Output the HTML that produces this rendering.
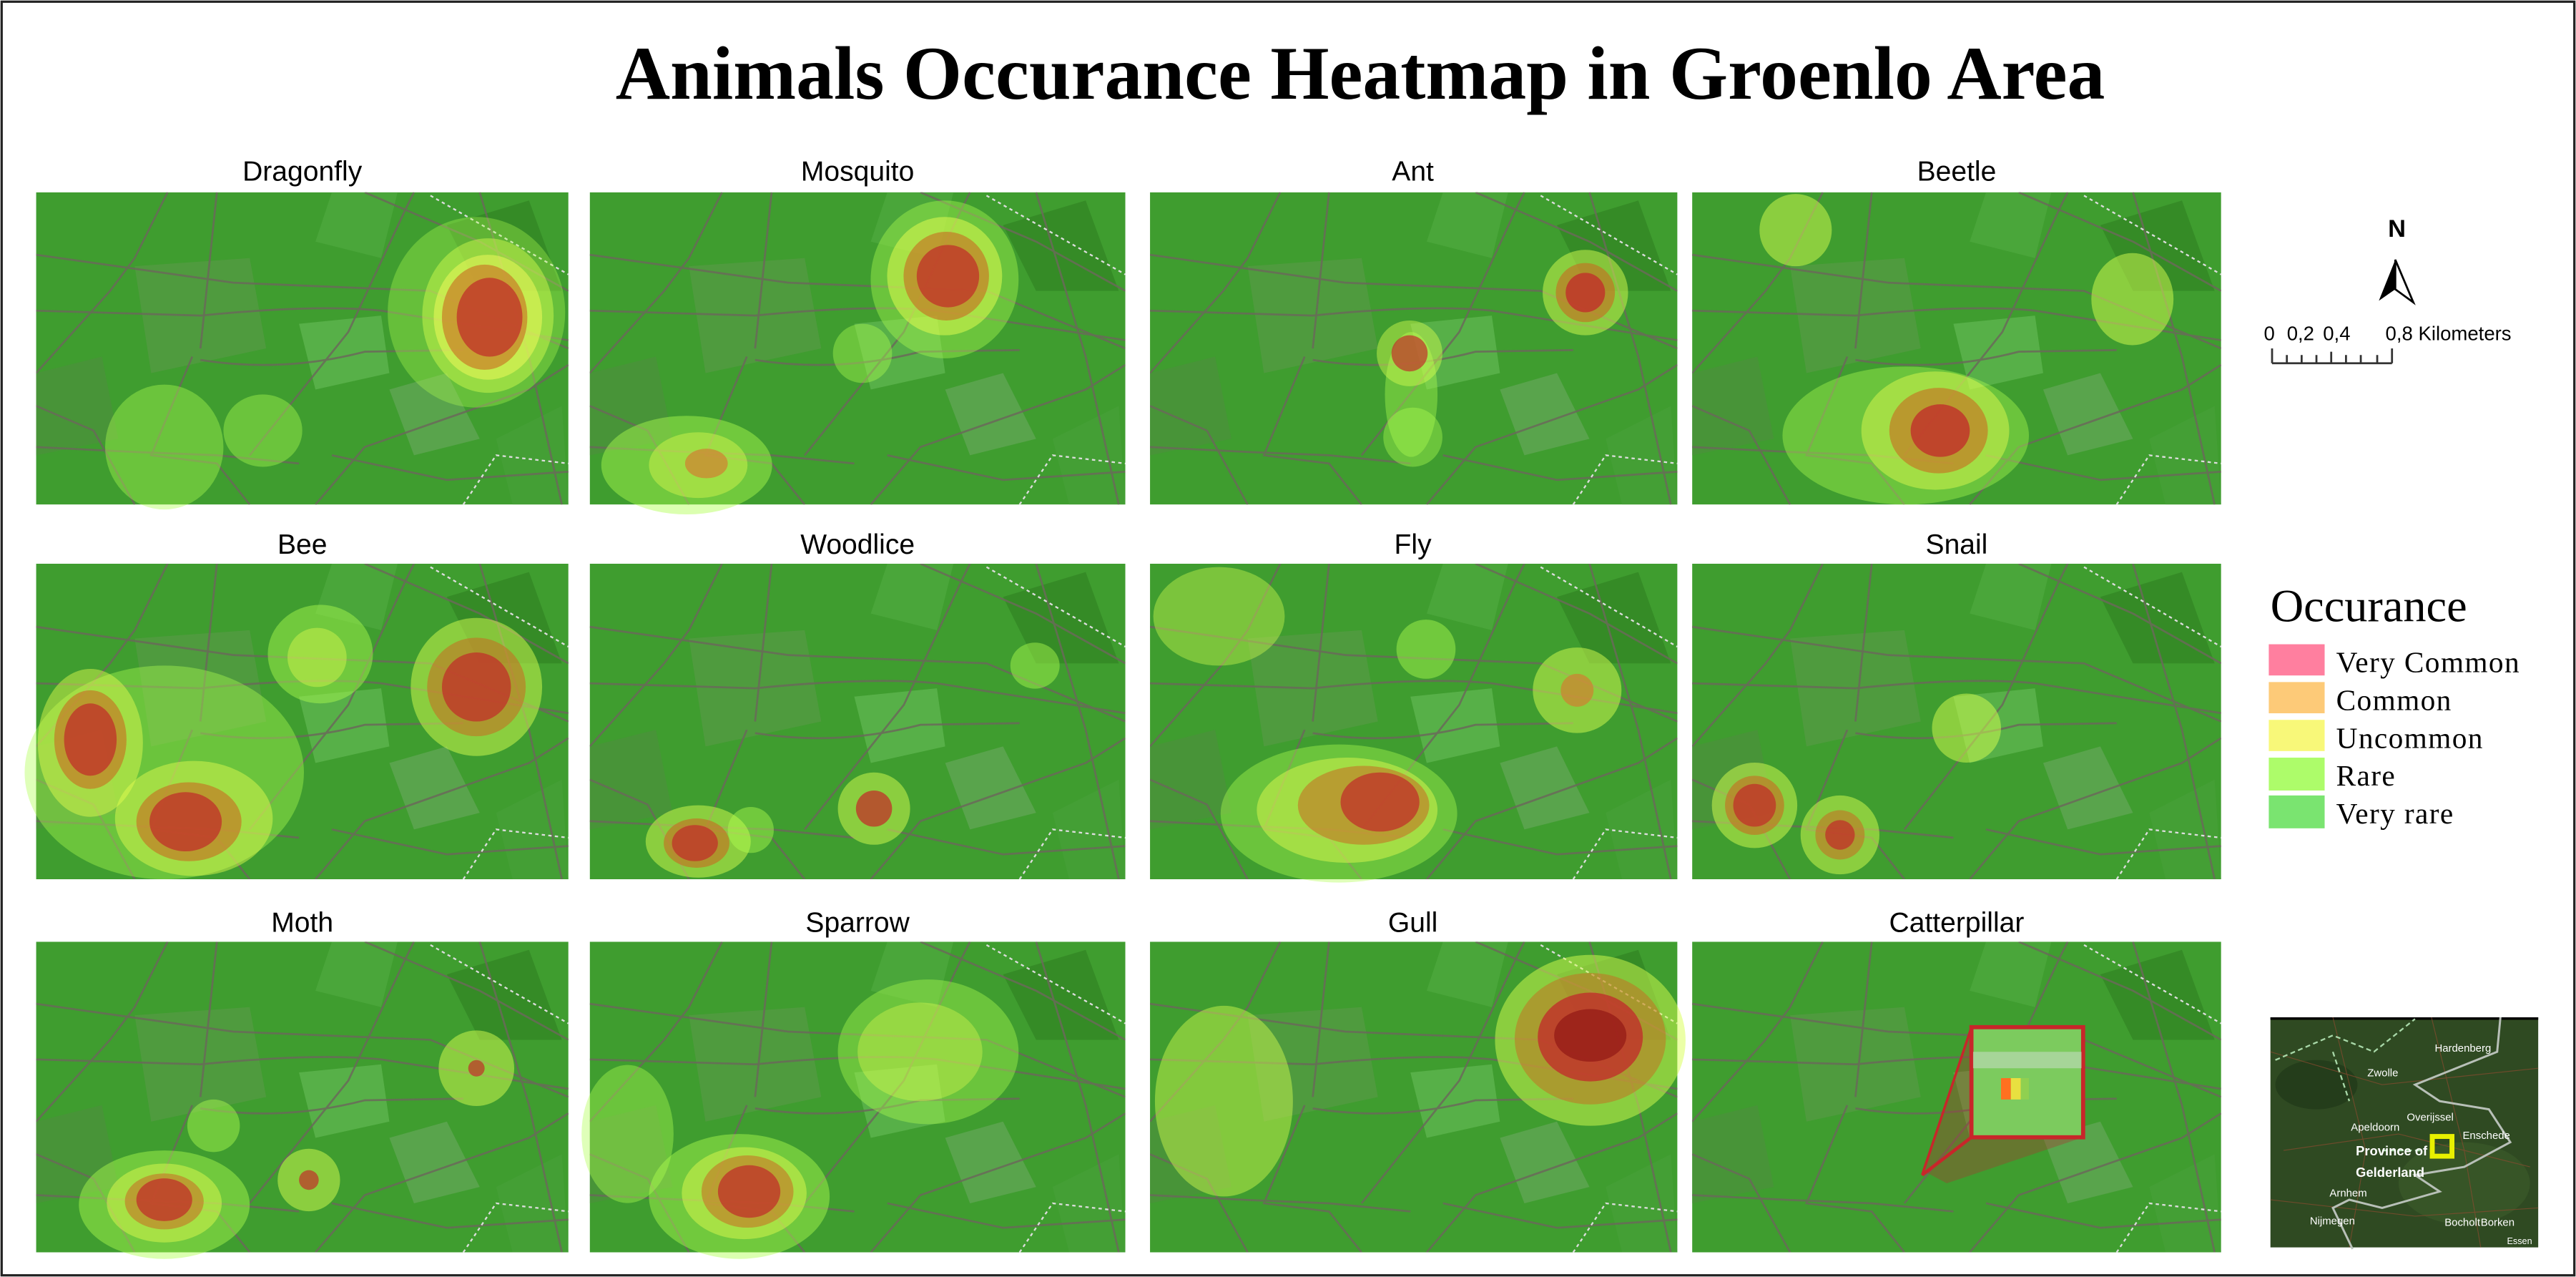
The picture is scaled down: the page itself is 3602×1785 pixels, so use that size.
<!DOCTYPE html>
<html><head><meta charset="utf-8"><style>
html,body{margin:0;padding:0;background:#fff}
svg{display:block}
</style></head><body>
<svg width="3602" height="1785" viewBox="0 0 1568 777" xmlns="http://www.w3.org/2000/svg">
<defs>
<symbol id="map" viewBox="0 0 324 190" preserveAspectRatio="none" overflow="hidden">
<rect width="324" height="190" fill="#3f9d2f"/>
<polygon points="60,45 130,40 140,95 70,110" fill="#5a9a4a" opacity="0.6"/>
<polygon points="160,80 210,75 215,110 170,120" fill="#62b852" opacity="0.7"/>
<polygon points="215,120 250,110 270,150 230,160" fill="#6aa860" opacity="0.6"/>
<polygon points="0,110 40,100 50,150 0,160" fill="#4e8e40" opacity="0.6"/>
<polygon points="250,20 300,5 320,60 270,60" fill="#2f7f22" opacity="0.6"/>
<polygon points="180,0 220,0 210,40 170,30" fill="#56b045" opacity="0.5"/>
<polygon points="280,150 320,130 324,190 290,190" fill="#47a03a" opacity="0.6"/>
<g stroke="#6a6a5a" stroke-width="1.2" fill="none" opacity="0.85">
<path d="M0,38 L120,55 L240,60 L324,95"/>
<path d="M0,72 L100,75 Q170,68 210,72 L324,90"/>
<path d="M100,102 Q150,110 200,97 L260,96"/>
<path d="M95,100 L70,160 L110,165 L130,190"/>
<path d="M0,155 L60,158 L110,160 L160,165"/>
<path d="M130,160 L190,85 L225,10 L230,0"/>
<path d="M170,190 L200,155 L300,120 L324,105"/>
<path d="M200,0 L270,30 L324,60"/>
<path d="M80,0 L60,40 L45,60 L0,110"/>
<path d="M110,0 L100,95"/>
<path d="M180,160 L250,175 L324,170"/>
<path d="M270,0 L300,100 L320,190"/>
<path d="M0,130 L35,145 L60,190"/>
</g>
<path d="M240,2 L324,50" stroke="#ddd" stroke-width="1" stroke-dasharray="2,2" fill="none"/>
<path d="M260,190 L280,160 L324,165" stroke="#ddd" stroke-width="1" stroke-dasharray="2,2" fill="none"/>
</symbol>
</defs>
<rect x="1" y="1" width="1566" height="775" fill="#fff" stroke="#222" stroke-width="1.4"/>
<text x="828" y="60" font-family="Liberation Serif, serif" font-weight="bold" font-size="46" text-anchor="middle" fill="#000">Animals Occurance Heatmap in Groenlo Area</text>

<g font-family="Liberation Sans, sans-serif" font-size="17" text-anchor="middle" fill="#000">
<text x="184" y="110">Dragonfly</text><text x="522" y="110">Mosquito</text><text x="860" y="110">Ant</text><text x="1191" y="110">Beetle</text>
<text x="184" y="337">Bee</text><text x="522" y="337">Woodlice</text><text x="860" y="337">Fly</text><text x="1191" y="337">Snail</text>
<text x="184" y="567">Moth</text><text x="522" y="567">Sparrow</text><text x="860" y="567">Gull</text><text x="1191" y="567">Catterpillar</text>
</g>

<use href="#map" x="22" y="117" width="324" height="190"/>
<use href="#map" x="359" y="117" width="326" height="190"/>
<use href="#map" x="700" y="117" width="321" height="190"/>
<use href="#map" x="1030" y="117" width="322" height="190"/>
<use href="#map" x="22" y="343" width="324" height="192"/>
<use href="#map" x="359" y="343" width="326" height="192"/>
<use href="#map" x="700" y="343" width="321" height="192"/>
<use href="#map" x="1030" y="343" width="322" height="192"/>
<use href="#map" x="22" y="573" width="324" height="189"/>
<use href="#map" x="359" y="573" width="326" height="189"/>
<use href="#map" x="700" y="573" width="321" height="189"/>
<use href="#map" x="1030" y="573" width="322" height="189"/>

<g>
<!-- Dragonfly -->
<ellipse cx="290" cy="190" rx="54" ry="58" fill="#b0ff50" opacity="0.35"/>
<ellipse cx="297" cy="192" rx="40" ry="47" fill="#d8ff50" opacity="0.45"/>
<ellipse cx="297" cy="193" rx="33" ry="38" fill="#ffff60" opacity="0.45"/>
<ellipse cx="295" cy="193" rx="26" ry="32" fill="#c86a20" opacity="0.6"/>
<ellipse cx="298" cy="193" rx="20" ry="24" fill="#c0302a" opacity="0.75"/>
<ellipse cx="100" cy="272" rx="36" ry="38" fill="#b0ff50" opacity="0.4"/>
<ellipse cx="160" cy="262" rx="24" ry="22" fill="#b0ff50" opacity="0.4"/>
<!-- Mosquito -->
<ellipse cx="575" cy="170" rx="45" ry="48" fill="#b0ff50" opacity="0.4"/>
<ellipse cx="575" cy="168" rx="35" ry="36" fill="#e8ff50" opacity="0.5"/>
<ellipse cx="576" cy="168" rx="26" ry="27" fill="#c86a20" opacity="0.6"/>
<ellipse cx="577" cy="168" rx="19" ry="19" fill="#c0302a" opacity="0.75"/>
<ellipse cx="525" cy="215" rx="18" ry="18" fill="#b0ff50" opacity="0.4"/>
<ellipse cx="418" cy="283" rx="52" ry="30" fill="#b0ff50" opacity="0.45"/>
<ellipse cx="425" cy="283" rx="30" ry="20" fill="#e8ff50" opacity="0.4"/>
<ellipse cx="430" cy="282" rx="13" ry="9" fill="#d08030" opacity="0.7"/>
<!-- Ant -->
<ellipse cx="965" cy="178" rx="26" ry="26" fill="#d8ff50" opacity="0.5"/>
<ellipse cx="965" cy="178" rx="18" ry="18" fill="#c86a20" opacity="0.6"/>
<ellipse cx="965" cy="178" rx="12" ry="12" fill="#c0302a" opacity="0.8"/>
<ellipse cx="859" cy="240" rx="16" ry="38" fill="#b0ff50" opacity="0.4"/>
<ellipse cx="858" cy="215" rx="20" ry="20" fill="#d8ff50" opacity="0.45"/>
<ellipse cx="858" cy="215" rx="11" ry="11" fill="#c0302a" opacity="0.7"/>
<ellipse cx="860" cy="266" rx="18" ry="18" fill="#b0ff50" opacity="0.4"/>
<!-- Beetle -->
<ellipse cx="1093" cy="140" rx="22" ry="22" fill="#d8ff50" opacity="0.5"/>
<ellipse cx="1298" cy="182" rx="25" ry="28" fill="#d8ff50" opacity="0.5"/>
<ellipse cx="1160" cy="265" rx="75" ry="42" fill="#b0ff50" opacity="0.4"/>
<ellipse cx="1178" cy="262" rx="45" ry="36" fill="#e8ff50" opacity="0.45"/>
<ellipse cx="1180" cy="262" rx="30" ry="26" fill="#c86a20" opacity="0.6"/>
<ellipse cx="1181" cy="262" rx="18" ry="16" fill="#c0302a" opacity="0.8"/>
<!-- Bee -->
<ellipse cx="100" cy="470" rx="85" ry="65" fill="#b0ff50" opacity="0.4"/>
<ellipse cx="55" cy="452" rx="32" ry="45" fill="#e8ff50" opacity="0.45"/>
<ellipse cx="55" cy="450" rx="22" ry="30" fill="#c86a20" opacity="0.6"/>
<ellipse cx="55" cy="450" rx="16" ry="22" fill="#c0302a" opacity="0.75"/>
<ellipse cx="118" cy="498" rx="48" ry="35" fill="#e8ff50" opacity="0.45"/>
<ellipse cx="115" cy="500" rx="32" ry="24" fill="#c86a20" opacity="0.6"/>
<ellipse cx="113" cy="500" rx="22" ry="18" fill="#c0302a" opacity="0.75"/>
<ellipse cx="195" cy="398" rx="32" ry="30" fill="#b0ff50" opacity="0.45"/>
<ellipse cx="193" cy="400" rx="18" ry="18" fill="#e8ff50" opacity="0.4"/>
<ellipse cx="290" cy="418" rx="40" ry="42" fill="#d8ff50" opacity="0.5"/>
<ellipse cx="290" cy="418" rx="30" ry="30" fill="#c86a20" opacity="0.55"/>
<ellipse cx="290" cy="418" rx="21" ry="21" fill="#c0302a" opacity="0.75"/>
<!-- Woodlice -->
<ellipse cx="425" cy="512" rx="32" ry="22" fill="#d8ff50" opacity="0.5"/>
<ellipse cx="424" cy="513" rx="20" ry="15" fill="#c86a20" opacity="0.6"/>
<ellipse cx="423" cy="513" rx="14" ry="11" fill="#c0302a" opacity="0.75"/>
<ellipse cx="457" cy="505" rx="14" ry="14" fill="#b0ff50" opacity="0.45"/>
<ellipse cx="532" cy="492" rx="22" ry="22" fill="#d8ff50" opacity="0.5"/>
<ellipse cx="532" cy="492" rx="11" ry="11" fill="#c0302a" opacity="0.75"/>
<ellipse cx="630" cy="405" rx="15" ry="14" fill="#b0ff50" opacity="0.45"/>
<!-- Fly -->
<ellipse cx="742" cy="375" rx="40" ry="30" fill="#d8ff50" opacity="0.4"/>
<ellipse cx="868" cy="395" rx="18" ry="18" fill="#b0ff50" opacity="0.45"/>
<ellipse cx="960" cy="420" rx="27" ry="26" fill="#d8ff50" opacity="0.5"/>
<ellipse cx="960" cy="420" rx="10" ry="10" fill="#d08030" opacity="0.7"/>
<ellipse cx="815" cy="495" rx="72" ry="42" fill="#b0ff50" opacity="0.4"/>
<ellipse cx="820" cy="493" rx="55" ry="32" fill="#e8ff50" opacity="0.45"/>
<ellipse cx="830" cy="490" rx="40" ry="24" fill="#c86a20" opacity="0.55"/>
<ellipse cx="840" cy="488" rx="24" ry="18" fill="#c0302a" opacity="0.75"/>
<!-- Snail -->
<ellipse cx="1197" cy="443" rx="21" ry="21" fill="#d8ff50" opacity="0.5"/>
<ellipse cx="1068" cy="490" rx="26" ry="26" fill="#d8ff50" opacity="0.5"/>
<ellipse cx="1068" cy="490" rx="18" ry="18" fill="#c86a20" opacity="0.6"/>
<ellipse cx="1068" cy="490" rx="13" ry="13" fill="#c0302a" opacity="0.75"/>
<ellipse cx="1120" cy="508" rx="24" ry="24" fill="#d8ff50" opacity="0.5"/>
<ellipse cx="1120" cy="508" rx="15" ry="15" fill="#c86a20" opacity="0.55"/>
<ellipse cx="1120" cy="508" rx="9" ry="9" fill="#c0302a" opacity="0.75"/>
<!-- Moth -->
<ellipse cx="100" cy="733" rx="52" ry="33" fill="#b0ff50" opacity="0.45"/>
<ellipse cx="100" cy="732" rx="35" ry="24" fill="#e8ff50" opacity="0.45"/>
<ellipse cx="100" cy="731" rx="24" ry="17" fill="#c86a20" opacity="0.55"/>
<ellipse cx="100" cy="730" rx="17" ry="13" fill="#c0302a" opacity="0.75"/>
<ellipse cx="130" cy="685" rx="16" ry="16" fill="#b0ff50" opacity="0.45"/>
<ellipse cx="188" cy="718" rx="19" ry="19" fill="#d8ff50" opacity="0.5"/>
<ellipse cx="188" cy="718" rx="6" ry="6" fill="#c0302a" opacity="0.7"/>
<ellipse cx="290" cy="650" rx="23" ry="23" fill="#d8ff50" opacity="0.5"/>
<ellipse cx="290" cy="650" rx="5" ry="5" fill="#c0302a" opacity="0.7"/>
<!-- Sparrow -->
<ellipse cx="382" cy="690" rx="28" ry="42" fill="#b0ff50" opacity="0.4"/>
<ellipse cx="565" cy="640" rx="55" ry="44" fill="#b0ff50" opacity="0.4"/>
<ellipse cx="560" cy="640" rx="38" ry="30" fill="#e8ff50" opacity="0.35"/>
<ellipse cx="450" cy="728" rx="55" ry="38" fill="#b0ff50" opacity="0.45"/>
<ellipse cx="453" cy="726" rx="38" ry="28" fill="#e8ff50" opacity="0.45"/>
<ellipse cx="455" cy="725" rx="28" ry="22" fill="#c86a20" opacity="0.55"/>
<ellipse cx="456" cy="725" rx="19" ry="16" fill="#c0302a" opacity="0.75"/>
<!-- Gull -->
<ellipse cx="745" cy="670" rx="42" ry="58" fill="#d8ff50" opacity="0.45"/>
<ellipse cx="968" cy="633" rx="58" ry="52" fill="#d8ff50" opacity="0.5"/>
<ellipse cx="968" cy="632" rx="46" ry="40" fill="#c86a20" opacity="0.5"/>
<ellipse cx="968" cy="631" rx="32" ry="27" fill="#c0302a" opacity="0.8"/>
<ellipse cx="968" cy="630" rx="22" ry="16" fill="#8a1010" opacity="0.6"/>
<!-- Catterpillar -->
<polygon points="1170,712 1200,625 1268,692 1185,720" fill="#b03030" opacity="0.35"/>
<line x1="1170" y1="715" x2="1200" y2="692" stroke="#c8262a" stroke-width="2"/>
<line x1="1170" y1="715" x2="1200" y2="625" stroke="#c8262a" stroke-width="1.5"/>
<rect x="1200" y="625" width="68" height="67" fill="#7ccb5e" stroke="#c8262a" stroke-width="2.5"/>
<rect x="1201" y="640" width="66" height="10" fill="#b8d8b0" opacity="0.7"/>
<rect x="1218" y="656" width="6" height="13" fill="#ff7020"/>
<rect x="1224" y="656" width="6" height="13" fill="#e8e040"/>
<rect x="1230" y="656" width="5" height="13" fill="#90d050"/>
</g>

<!-- North arrow -->
<text x="1459" y="144" font-family="Liberation Sans, sans-serif" font-weight="bold" font-size="15" text-anchor="middle">N</text>
<polygon points="1448,183 1458,158 1458,176" fill="#000"/>
<polygon points="1458,158 1469,184 1458,176" fill="#fff" stroke="#000" stroke-width="1.2"/>
<g font-family="Liberation Sans, sans-serif" font-size="12">
<text x="1378" y="207">0</text><text x="1392" y="207">0,2</text><text x="1414" y="207">0,4</text><text x="1452" y="207">0,8 Kilometers</text>
</g>
<g stroke="#333" stroke-width="1.2">
<line x1="1383" y1="221" x2="1456" y2="221"/>
<line x1="1383" y1="212" x2="1383" y2="221"/><line x1="1456" y1="212" x2="1456" y2="221"/>
<line x1="1392" y1="216" x2="1392" y2="221"/><line x1="1401" y1="216" x2="1401" y2="221"/>
<line x1="1410" y1="216" x2="1410" y2="221"/><line x1="1419" y1="214" x2="1419" y2="221"/>
<line x1="1428" y1="216" x2="1428" y2="221"/><line x1="1437" y1="216" x2="1437" y2="221"/>
<line x1="1447" y1="216" x2="1447" y2="221"/>
</g>

<!-- Legend -->
<text x="1382" y="378" font-family="Liberation Serif, serif" font-size="28">Occurance</text>
<g font-family="Liberation Serif, serif" font-size="18" letter-spacing="0.6" fill="#000">
<rect x="1381" y="392" width="34" height="19" fill="#ff7f9f"/><text x="1422" y="409">Very Common</text>
<rect x="1381" y="415" width="34" height="19" fill="#fdca78"/><text x="1422" y="432">Common</text>
<rect x="1381" y="438" width="34" height="19" fill="#f8f879"/><text x="1422" y="455">Uncommon</text>
<rect x="1381" y="461" width="34" height="20" fill="#adfc6a"/><text x="1422" y="478">Rare</text>
<rect x="1381" y="484" width="34" height="20" fill="#7ae470"/><text x="1422" y="501">Very rare</text>
</g>

<!-- Inset map -->
<rect x="1382" y="619" width="163" height="140" fill="#2f4a22"/>
<rect x="1382" y="619" width="163" height="1.5" fill="#000"/>
<ellipse cx="1410" cy="660" rx="25" ry="15" fill="#223a1a" opacity="0.8"/>
<ellipse cx="1500" cy="720" rx="40" ry="25" fill="#3a5a2a" opacity="0.7"/>
<g stroke="#8a4a30" stroke-width="0.5" fill="none" opacity="0.7">
<path d="M1382,640 L1450,660 L1545,650"/><path d="M1390,700 L1460,690 L1540,710"/>
<path d="M1420,619 L1440,700 L1430,759"/><path d="M1480,619 L1500,700 L1510,759"/>
<path d="M1382,730 L1470,740 L1545,735"/>
</g>
<path d="M1522,619 L1520,640 L1470,660 L1485,670 L1515,675 L1528,695 L1500,710 L1470,715 L1485,725 L1450,735 L1430,730 L1420,735 L1432,760" stroke="#b8c0b8" stroke-width="1.3" fill="none"/>
<path d="M1385,645 L1420,630 L1445,640 L1470,620 M1420,640 L1430,670 M1450,700 L1475,700" stroke="#a8d8a8" stroke-width="1" stroke-dasharray="3,2" fill="none"/>
<g font-family="Liberation Sans, sans-serif" fill="#fff" font-size="6.5">
<text x="1482" y="640">Hardenberg</text><text x="1441" y="655">Zwolle</text><text x="1465" y="682">Overijssel</text>
<text x="1431" y="688">Apeldoorn</text><text x="1499" y="693">Enschede</text><text x="1418" y="728">Arnhem</text>
<text x="1406" y="745">Nijmegen</text><text x="1488" y="746">Bocholt</text><text x="1510" y="746">Borken</text>
<text x="1526" y="757" font-size="5.5">Essen</text>
<text x="1434" y="703" font-size="8" font-weight="bold">Province of</text>
<text x="1434" y="716" font-size="8" font-weight="bold">Gelderland</text>
</g>
<rect x="1480.5" y="691.5" width="12" height="12" fill="none" stroke="#e8f000" stroke-width="3"/>
</svg>
</body></html>
